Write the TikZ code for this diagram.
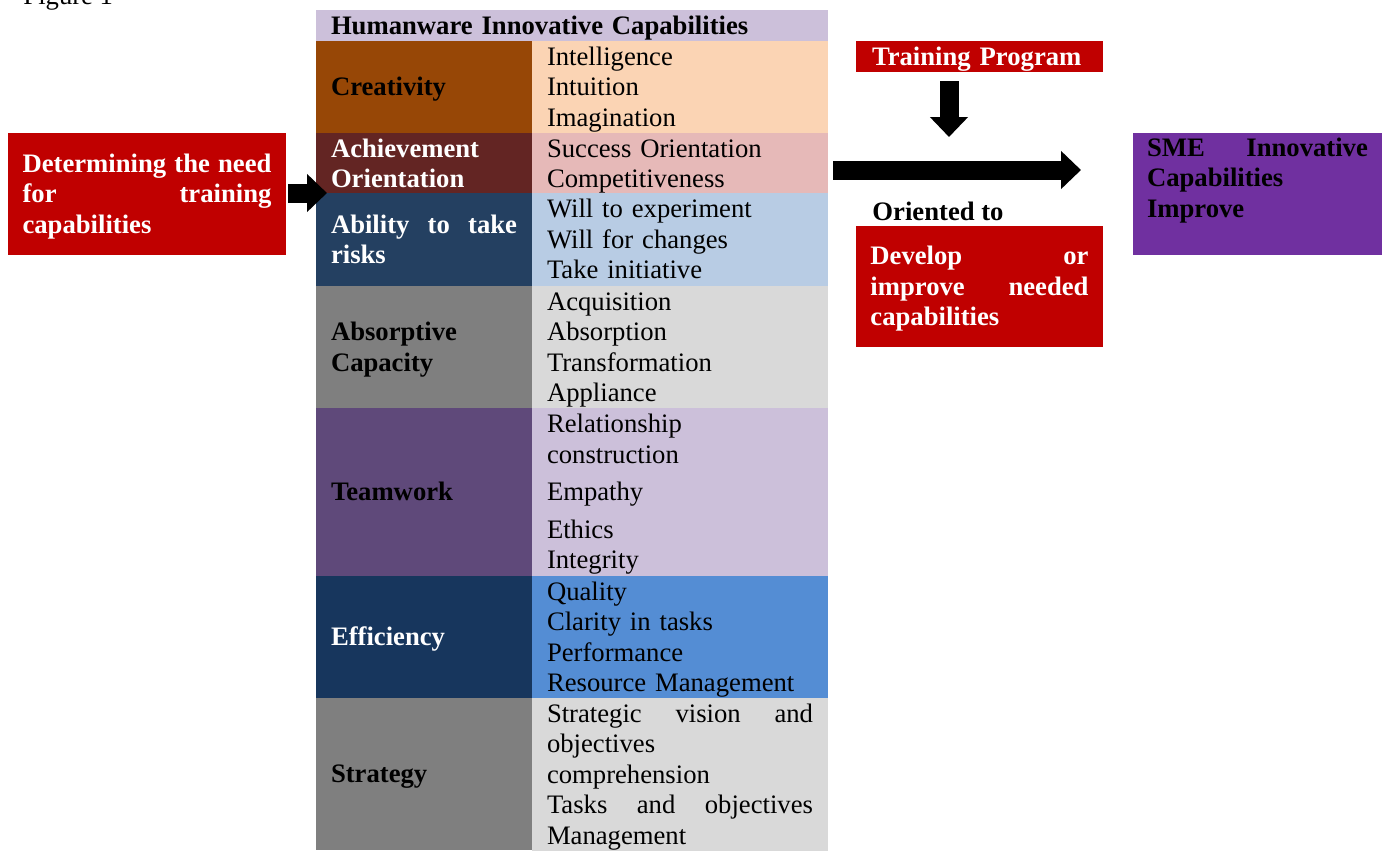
\documentclass[tikz,border=0pt]{standalone}
\usepackage{fontspec}
\setmainfont{Liberation Serif}
\usepackage{tikz}
\usetikzlibrary{arrows.meta,positioning}

\newcommand{\cellfont}{\fontsize{12pt}{13.7pt}\selectfont}

% table colours
\definecolor{headC}{HTML}{CCC0DA}
\definecolor{creaL}{HTML}{974706}
\definecolor{creaR}{HTML}{FBD4B4}
\definecolor{achL}{HTML}{632523}
\definecolor{achR}{HTML}{E6B9B8}
\definecolor{riskL}{HTML}{244061}
\definecolor{riskR}{HTML}{B8CCE4}
\definecolor{absL}{HTML}{7F7F7F}
\definecolor{absR}{HTML}{D9D9D9}
\definecolor{teamL}{HTML}{5F497A}
\definecolor{teamR}{HTML}{CCC0DA}
\definecolor{effL}{HTML}{17365D}
\definecolor{effR}{HTML}{548DD4}
\definecolor{boxred}{HTML}{C00000}
\definecolor{boxpurple}{HTML}{7030A0}

\begin{document}
\begin{tikzpicture}[x=0.45pt, y=-0.45pt, font=\cellfont,
  % full line boxes, so the text sits as in a word processor
  line boxes/.style={execute at begin node={\rule{0pt}{11pt}},
    execute at end node={\rule[-3pt]{0pt}{3pt}}},
  cell/.style={anchor=north west, inner xsep=6.75pt, inner ysep=0pt, outer sep=0pt, line boxes},
  cap cell/.style={cell, minimum width=97.2pt, text width=83.7pt, align=left, font=\cellfont\bfseries},
  ind cell/.style={cell, minimum width=133.2pt, text width=119.7pt, align=left},
  plain box/.style={anchor=north west, fill=boxred, text=white, font=\cellfont\bfseries,
    inner ysep=0pt, outer sep=0pt, align=left},
  red box/.style={plain box, line boxes},
  block arrow/.style={line width=8.55pt, -{Triangle[length=9pt, width=16.65pt]}}]

\useasboundingbox (0,0) rectangle (1384,850);

\node [anchor=base west, inner sep=0pt] (figlabel) at (23,4.5) {Figure 1};

% the capability table
\node [cell, fill=headC, minimum width=230.4pt, minimum height=13.95pt,
  text width=216.9pt, align=left, font=\cellfont\bfseries] (head) at (316,10)
  {Humanware Innovative Capabilities};

\foreach \ya/\yb/\n/\cl/\cr/\tc/\lab/\items in {
  41/133/crea/creaL/creaR/black/{Creativity}/{Intelligence\\Intuition\\Imagination},
  133/193/ach/achL/achR/white/{Achievement\\Orientation}/{Success Orientation\\Competitiveness},
  193/286/risk/riskL/riskR/white/{Ability\hfill to\hfill take\\risks}/{Will to experiment\\Will for changes\\Take initiative},
  286/408/abs/absL/absR/black/{Absorptive\\Capacity}/{Acquisition\\Absorption\\Transformation\\Appliance},
  408/576/team/teamL/teamR/black/{Teamwork}/{Relationship\\construction\\[3.2pt]Empathy\\[3.2pt]Ethics\\Integrity},
  576/698/eff/effL/effR/white/{Efficiency}/{Quality\\Clarity in tasks\\Performance\\Resource Management},
  698/850/strat/absL/absR/black/{Strategy}/{Strategic\hfill vision\hfill and\\objectives\\comprehension\\Tasks\hfill and\hfill objectives\\Management}}
{
  \node [cap cell, fill=\cl, text=\tc, minimum height=(\yb-\ya)*0.45pt] (\n-cap) at (316,\ya) {\lab};
  \node [ind cell, fill=\cr, minimum height=(\yb-\ya)*0.45pt] (\n-ind) at (532,\ya) {\items};
}

% boxes around the table
\node [red box, minimum width=125.1pt, minimum height=54.9pt, inner xsep=6.55pt,
  text width=112pt] (need) at (8,133)
  {Determining\hfill the\hfill need\\for\hfill training\\capabilities};

\node [red box, minimum width=111.15pt, minimum height=13.05pt, inner xsep=7.2pt,
  text width=96.75pt] (train) at (856,41) {Training Program};

\node [anchor=west, font=\cellfont\bfseries, inner sep=0pt] (orient) at (872,211) {Oriented to};

\node [red box, minimum width=111.15pt, minimum height=54.45pt, inner xsep=6.5pt,
  text width=98.15pt] (develop) at (856,226)
  {Develop\hfill or\\improve\hfill needed\\capabilities};

% text kept at the top of this box
\node [plain box, fill=boxpurple, text=black, minimum width=112pt, minimum height=54.9pt,
  inner xsep=6.3pt, text width=99.4pt,
  execute at begin node={\rule{0pt}{10.4pt}},
  execute at end node={\rule[-17pt]{0pt}{17pt}}] (sme) at (1133,133)
  {SME\hfill Innovative\\Capabilities\\Improve};

% arrows
\coordinate (needtip) at (327,193);
\coordinate (bigtail) at (833,170);
\coordinate (bigtip) at (1081,170);
\coordinate (downtail) at (949,81);
\coordinate (downtip) at (949,137);

\draw [block arrow] (need.east |- needtip) ++(2,0) -- (needtip);
\draw [block arrow] (bigtail) -- (bigtip);
\draw [block arrow] (downtail) -- (downtip);

\end{tikzpicture}
\end{document}
